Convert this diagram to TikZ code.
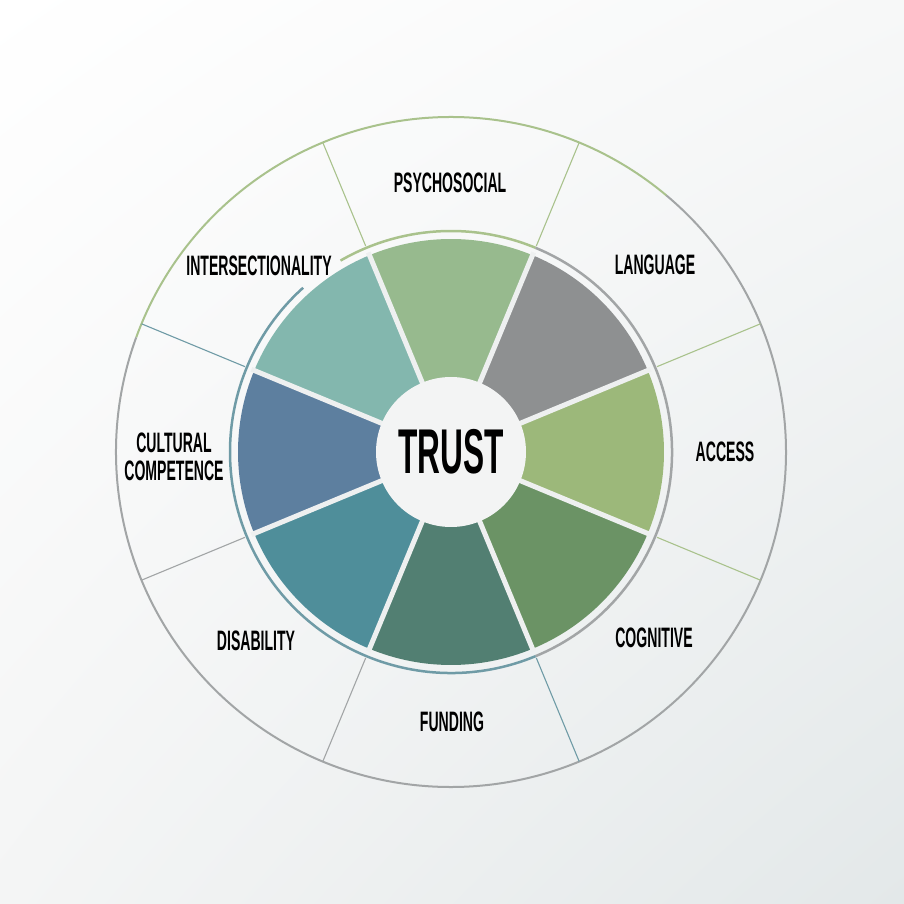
\documentclass[tikz,border=0pt]{standalone}
\usepackage{fontspec}
\setmainfont{Liberation Sans}[FakeStretch=0.5]
\usetikzlibrary{shadings}

\definecolor{psychofill}{HTML}{97BA8E}
\definecolor{languagefill}{HTML}{8E9091}
\definecolor{accessfill}{HTML}{9CB87A}
\definecolor{cognitivefill}{HTML}{6B9365}
\definecolor{fundingfill}{HTML}{527F72}
\definecolor{disabilityfill}{HTML}{4F8E9A}
\definecolor{culturalfill}{HTML}{5D7F9F}
\definecolor{intersectfill}{HTML}{83B7AE}
\definecolor{greenline}{HTML}{A9C28C}
\definecolor{grayline}{HTML}{A2A5A6}
\definecolor{tealline}{HTML}{6F9BA6}
\definecolor{gapcol}{HTML}{EEF0F0}
\definecolor{hubfill}{HTML}{F3F4F4}
\definecolor{bgtl}{HTML}{FFFFFF}
\definecolor{bgtr}{HTML}{F7F8F8}
\definecolor{bgbl}{HTML}{F4F5F5}
\definecolor{bgbr}{HTML}{E3E8E9}

\tikzset{
  label/.style={font=\bfseries\fontsize{8}{8}\selectfont, align=center, text=black},
  hub/.style={circle, fill=hubfill, minimum size=1.5cm, inner sep=0pt,
    font=\bfseries\fontsize{18}{20}\selectfont},
  ring/.style={line width=0.02cm},
  divider/.style={line width=0.011cm}
}

\begin{document}
\begin{tikzpicture}
  \useasboundingbox (-4.51,-4.52) rectangle (4.53,4.52);
  \shade[upper left=bgtl, upper right=bgtr, lower left=bgbl, lower right=bgbr]
    (-4.51,-4.52) rectangle (4.53,4.52);

  % outer ring
  \draw[ring, greenline] (160:3.35) arc[start angle=160, end angle=50, radius=3.35];
  \draw[ring, grayline] (50:3.35) arc[start angle=50, end angle=-200, radius=3.35];

  % dividers of the outer ring
  \foreach \a/\c in {112.5/greenline, 67.5/greenline, 22.5/greenline, -22.5/greenline,
    -67.5/tealline, -112.5/grayline, -157.5/grayline, 157.5/tealline}
    \draw[divider, \c] (\a:2.23) -- (\a:3.35);

  % inner ring
  \draw[ring, greenline, line width=0.025cm] (120:2.21) arc[start angle=120, end angle=67.5, radius=2.21];
  \draw[ring, grayline, line width=0.025cm] (67.5:2.21) arc[start angle=67.5, end angle=-67.5, radius=2.21];
  \draw[ring, tealline, line width=0.025cm] (-67.5:2.21) arc[start angle=-67.5, end angle=-228, radius=2.21];

  % wedges
  \foreach \a/\c in {90/psychofill, 45/languagefill, 0/accessfill, -45/cognitivefill,
    -90/fundingfill, -135/disabilityfill, 180/culturalfill, 135/intersectfill}
    \fill[\c] (0,0) -- (\a-22.5:2.13) arc[start angle=\a-22.5, end angle=\a+22.5, radius=2.13] -- cycle;
  \foreach \a in {22.5,67.5,...,337.5}
    \draw[gapcol, line width=0.05cm] (0,0) -- (\a:2.16);

  \node[hub] (trust) at (0,0) {TRUST};

  \node[label] (psychosocial) at (-0.01,2.69) {PSYCHOSOCIAL};
  \node[label] (language) at (2.04,1.87) {LANGUAGE};
  \node[label] (access) at (2.74,0) {ACCESS};
  \node[label] (cognitive) at (2.03,-1.86) {COGNITIVE};
  \node[label] (funding) at (0.01,-2.70) {FUNDING};
  \node[label] (disability) at (-1.95,-1.89) {DISABILITY};
  \node[label] (cultural) at (-2.77,-0.05) {CULTURAL\\COMPETENCE};
  \node[label] (intersect) at (-1.92,1.86) {INTERSECTIONALITY};
\end{tikzpicture}
\end{document}
